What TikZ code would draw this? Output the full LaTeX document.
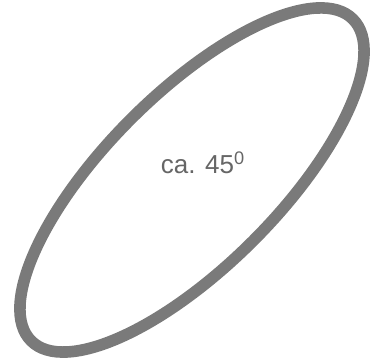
\documentclass[tikz,border=0pt]{standalone}
\usepackage{fontspec}
\setmainfont{Liberation Sans}
\usepackage{xcolor}
\usepackage{tikz}
\usetikzlibrary{shapes.geometric, positioning}
\definecolor{ringgray}{HTML}{7A7A7A}
\definecolor{labelgray}{HTML}{666666}
\tikzset{
    ring/.style={ellipse, draw=ringgray, line width=6.6pt, minimum width=9.1cm, minimum height=3.45cm, inner sep=0pt, rotate=45},
    anglelabel/.style={text=labelgray, font=\fontsize{14.8}{17}\selectfont, inner sep=0pt}
}

\begin{document}
\begin{tikzpicture}
    \useasboundingbox (0,0) rectangle (7.58,7.2);
    \node (loop) [ring] at (3.84,3.6) {};
    \node (tilt) [anglelabel] at (4.06,3.94) {ca. 45\textsuperscript{0}};
\end{tikzpicture}
\end{document}
